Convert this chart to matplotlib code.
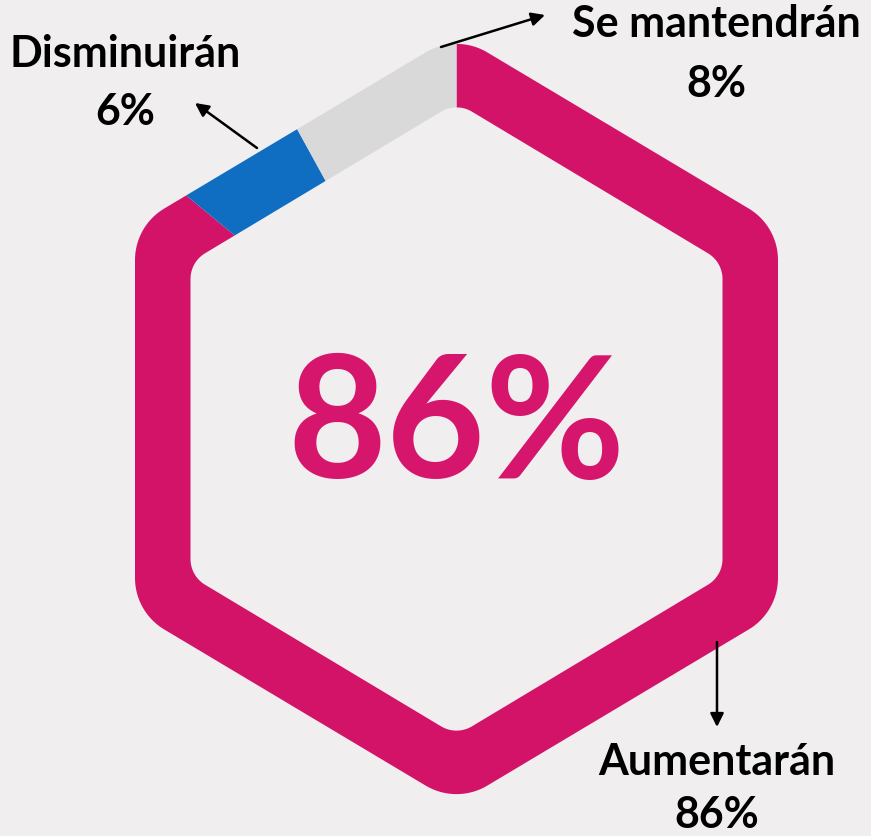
import numpy as np
import matplotlib
matplotlib.use("Agg")
import matplotlib.pyplot as plt
from matplotlib.path import Path
from matplotlib.patches import PathPatch, Wedge

# data
labels = ["Aumentarán", "Disminuirán", "Se mantendrán"]
values = [86, 6, 8]
colors = ["#D21368", "#106EC2", "#D9D9D9"]
big_label = "86%"

W, H = 871, 836
bg = "#F0EEEF"

fig = plt.figure(figsize=(W / 100, H / 100), dpi=100, facecolor=bg)
ax = fig.add_axes([0, 0, 1, 1])
ax.set_xlim(0, W)
ax.set_ylim(0, H)
ax.set_facecolor(bg)
ax.axis("off")


def py(y):
    # pixel row -> data y
    return H - y


def rounded(verts, r, n=24):
    verts = np.asarray(verts, float)
    N = len(verts)
    pts = []
    for i in range(N):
        p0, p1, p2 = verts[i - 1], verts[i], verts[(i + 1) % N]
        u1 = (p0 - p1) / np.linalg.norm(p0 - p1)
        u2 = (p2 - p1) / np.linalg.norm(p2 - p1)
        phi = np.arccos(np.clip(u1 @ u2, -1, 1)) / 2
        d = r / np.tan(phi)
        t1 = p1 + u1 * d
        t2 = p1 + u2 * d
        bis = (u1 + u2) / np.linalg.norm(u1 + u2)
        c = p1 + bis * r / np.sin(phi)
        a1 = np.arctan2(*(t1 - c)[::-1])
        a2 = np.arctan2(*(t2 - c)[::-1])
        da = (a2 - a1 + np.pi) % (2 * np.pi) - np.pi
        for a in np.linspace(a1, a1 + da, n):
            pts.append(c + r * np.array([np.cos(a), np.sin(a)]))
    return np.array(pts)


def hexagon(cx, cy, a, vt, vs):
    return [(cx, cy + vt), (cx - a, cy + vs), (cx - a, cy - vs),
            (cx, cy - vt), (cx + a, cy - vs), (cx + a, cy + vs)]


cx, cy = 456.5, py(419)
outer = rounded(hexagon(cx, cy, 321.5, 385, 193), 60)
inner = rounded(hexagon(cx, cy, 266, 316.6, 157), 30)[::-1]

verts = np.concatenate([outer, outer[:1], inner, inner[:1]])
codes = ([Path.MOVETO] + [Path.LINETO] * (len(outer) - 1) + [Path.CLOSEPOLY]
         + [Path.MOVETO] + [Path.LINETO] * (len(inner) - 1) + [Path.CLOSEPOLY])
ring = PathPatch(Path(verts, codes), fill=False, lw=0, transform=ax.transData)
ax.add_patch(ring)

# segments go clockwise from the top
start = 90.0
total = sum(values)
for v, col in zip(values, colors):
    sweep = 360.0 * v / total
    w = Wedge((cx, cy), 600, start - sweep, start, facecolor=col, edgecolor="none")
    ax.add_patch(w)
    w.set_clip_path(ring)
    start -= sweep

ax.text(cx, py(478), big_label, ha="center", va="baseline", fontsize=123,
        fontweight="bold", color="#D6156C", family="Lato")

fs = 31
ax.text(716, py(37), labels[2], ha="center", va="baseline", fontsize=fs, fontweight="bold", family="Lato")
ax.text(716, py(97), f"{values[2]}%", ha="center", va="baseline", fontsize=fs, fontweight="bold", family="Lato")
ax.text(125, py(67), labels[1], ha="center", va="baseline", fontsize=fs, fontweight="bold", family="Lato")
ax.text(125, py(125), f"{values[1]}%", ha="center", va="baseline", fontsize=fs, fontweight="bold", family="Lato")
ax.text(717, py(775), labels[0], ha="center", va="baseline", fontsize=fs, fontweight="bold", family="Lato")
ax.text(717, py(828), f"{values[0]}%", ha="center", va="baseline", fontsize=fs, fontweight="bold", family="Lato")

arrow = dict(arrowstyle="-|>", lw=1.8, color="black", mutation_scale=20, shrinkA=0, shrinkB=0)
ax.annotate("", xy=(545, py(15)), xytext=(441, py(47)), arrowprops=arrow)
ax.annotate("", xy=(195, py(103)), xytext=(257, py(148)), arrowprops=arrow)
ax.annotate("", xy=(717, py(727)), xytext=(717, py(642)), arrowprops=arrow)

plt.savefig("out.png", dpi=100, facecolor=bg)
